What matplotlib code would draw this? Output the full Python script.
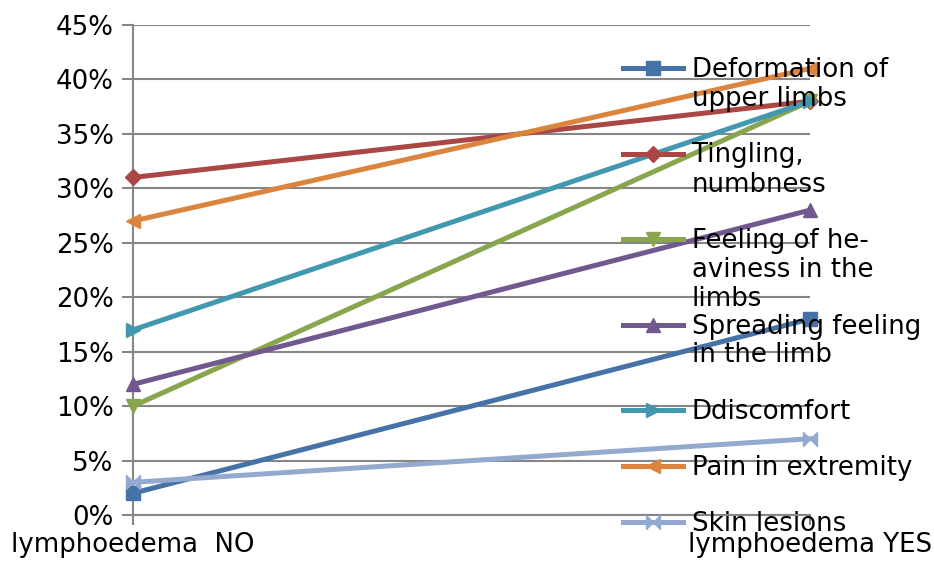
import numpy as np
import matplotlib
matplotlib.use('Agg')
import matplotlib.pyplot as plt
from matplotlib.lines import Line2D
from matplotlib.path import Path
from matplotlib.ticker import PercentFormatter

# datos (porcentaje)
categorias = ['lymphoedema  NO', 'lymphoedema YES']
series = ['Deformation of\nupper limbs', 'Tingling,\nnumbness', 'Feeling of he-\naviness in the\nlimbs',
          'Spreading feeling\nin the limb', 'Ddiscomfort', 'Pain in extremity', 'Skin lesions']
deformacion = [2, 18]
hormigueo = [31, 38]
pesadez = [10, 38]
extension = [12, 28]
molestia = [17, 38]
dolor = [27, 41]
piel = [3, 7]
valores = [deformacion, hormigueo, pesadez, extension, molestia, dolor, piel]

colores = ['#4572A7', '#AA4643', '#89A54E', '#71588F', '#4198AF', '#DB843D', '#93A9CF']
# marcador tipo "x" de excel: dos triangulos enfrentados
corbata = Path([(-1, -1), (0, 0), (-1, 1), (-1, -1), (1, -1), (0, 0), (1, 1), (1, -1)],
               [1, 2, 2, 79, 1, 2, 2, 79])
marcadores = ['s', 'D', 'v', '^', '>', '<', corbata]
tamanos = [10, 8, 10, 10, 10, 10, 10]

fs = 18.7
W, H = 934, 562
fig = plt.figure(figsize=(W / 100, H / 100), dpi=100)
ax = fig.add_axes([133 / W, 1 - 515 / H, (810 - 133) / W, (515 - 25) / H])

x = np.arange(len(categorias))
for i in range(len(series)):
    ax.plot(x, valores[i], color=colores[i], lw=3.6, marker=marcadores[i],
            ms=tamanos[i], mec=colores[i], mfc=colores[i], clip_on=False, zorder=3 + i)

gris = '#868686'
ax.set_xlim(0, 1)
ax.set_ylim(0, 45)
ax.set_yticks(np.arange(0, 46, 5))
ax.yaxis.set_major_formatter(PercentFormatter(decimals=0))
ax.set_xticks(x)
ax.set_xticklabels(categorias)
ax.grid(axis='y', color=gris, lw=1.5)
ax.set_axisbelow(True)
for s in ['top', 'right']:
    ax.spines[s].set_visible(False)
for s in ['left', 'bottom']:
    ax.spines[s].set_color(gris)
    ax.spines[s].set_linewidth(1.5)
ax.tick_params(axis='y', length=8, width=1.5, color=gris, labelsize=fs, pad=6)
ax.tick_params(axis='x', length=7, width=1.5, color=gris, labelsize=fs, pad=5)

# leyenda manual (como en excel, encima del area del grafico)
y_px = 68
for i in range(len(series)):
    yf = 1 - y_px / H
    fig.add_artist(Line2D([623 / W, 683 / W], [yf, yf], color=colores[i], lw=3.6, zorder=20))
    fig.add_artist(Line2D([653 / W], [yf], color=colores[i], marker=marcadores[i],
                          ms=tamanos[i], mec=colores[i], mfc=colores[i], zorder=21))
    fig.text(692 / W, 1 - (y_px - 11) / H, series[i], fontsize=fs, va='top', ha='left',
             linespacing=1.15, zorder=22)
    lineas = series[i].count('\n') + 1
    y_px += 56 if lineas == 1 else 85.5

fig.savefig('out.png', dpi=100)
